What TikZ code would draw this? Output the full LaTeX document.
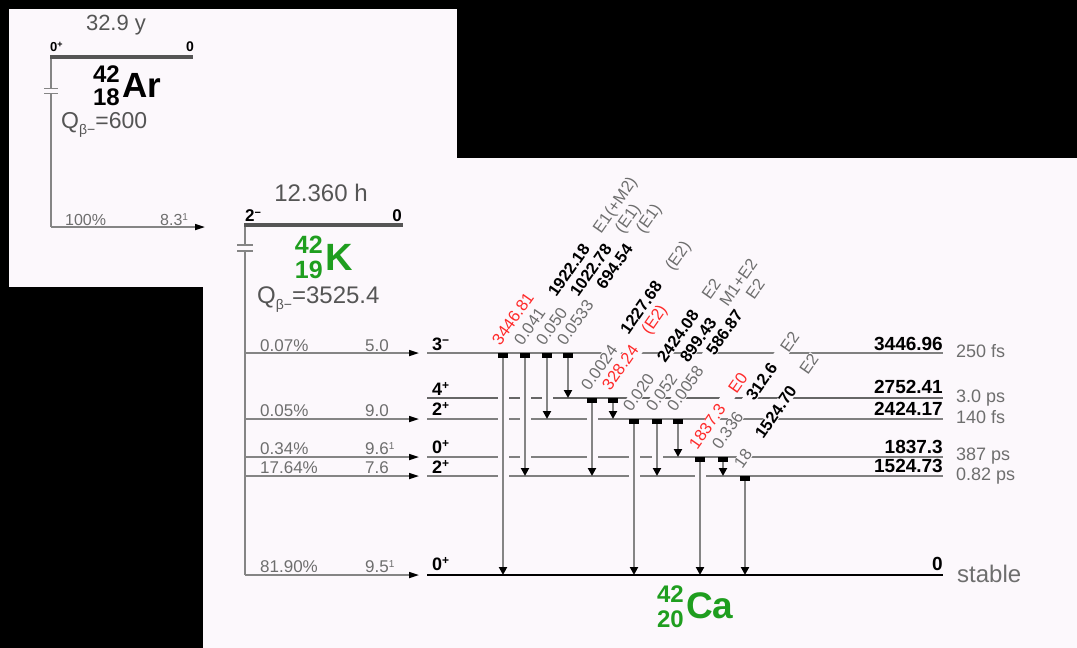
\documentclass[tikz,border=0pt]{standalone}
\usepackage{fontspec}
\setmainfont{Liberation Sans}
\usetikzlibrary{arrows.meta,calc}
\definecolor{bgc}{HTML}{FCF8FC}
\definecolor{levgray}{HTML}{808080}
\definecolor{gamgray}{HTML}{858585}
\definecolor{txtgray}{HTML}{6E6E6E}
\definecolor{dgray}{HTML}{555555}
\definecolor{nucgreen}{HTML}{1F9E1F}
\definecolor{labred}{HTML}{FF2A2A}
\newcommand\fs[1]{\fontsize{#1}{#1}\selectfont}
\newcommand\supx[1]{\raisebox{6pt}{\fs{12}#1}}
\newcommand\glI[1]{\textcolor{txtgray}{#1}}
\newcommand\glE[1]{\textcolor{black}{\bfseries #1}}
\newcommand\gsep{\hspace{1.1em}}
\begin{document}
\begin{tikzpicture}[x=1pt,y=-1pt,
  lev/.style={draw=levgray, line width=1.8pt},
  gsline/.style={draw=black, line width=2.2pt},
  parlev/.style={draw=dgray, line width=4pt},
  vline/.style={draw=gamgray, line width=2pt},
  betaarr/.style={draw=gamgray, line width=1.6pt, -{Triangle[length=10pt,width=6pt,color=black]}},
  gam/.style={draw=gamgray, line width=2.2pt, {Rectangle[length=5pt,width=10pt,color=black]}-{Triangle[length=8pt,width=8pt,color=black]}},
  halo/.style={draw=bgc, line width=11pt},
  glab/.style={rotate=55, anchor=base west, inner sep=0.4pt, fill=bgc, font=\fs{16.5}},
  pct/.style={anchor=base west, font=\fs{17}, text=txtgray},
  spin/.style={anchor=base west, font=\fs{18}\bfseries},
  en/.style={anchor=base east, font=\fs{19}\bfseries},
  hl/.style={anchor=base west, font=\fs{18}, text=txtgray},
  brk/.style={draw=gamgray, line width=1.5pt},
]
\useasboundingbox (0,0) rectangle (1077,648);
\fill[black] (0,0) rectangle (1077,648);
\fill[bgc] (9,9) rectangle (457,287);
\fill[bgc] (203,158) rectangle (1077,648);

% ---------------- 42Ar panel ----------------
\node[anchor=base, font=\fs{22}, text=dgray] (arT) at (116,30) {32.9 y};
\coordinate (arL) at (50,57); \coordinate (arR) at (193,57);
\draw[parlev] (arL) -- (arR);
\node[anchor=base west, font=\fs{13}\bfseries, inner sep=0] (arJ) at (50,51) {0\raisebox{4pt}{\fs{9}+}};
\node[anchor=base east, font=\fs{14}\bfseries, inner sep=0] (arE) at (194,51) {0};
\coordinate (arV) at (51,59); \coordinate (arB) at (51,227); \coordinate (arTip) at (205,227);
\draw[vline] (arV) -- (arB);
\fill[bgc] (47,88) rectangle (55,94);
\draw[brk] (44,88.5) -- (58,88.5) (44,93.5) -- (58,93.5);
\node[anchor=base east, font=\fs{24}\bfseries, inner sep=0] (arA) at (120,82) {42};
\node[anchor=base east, font=\fs{24}\bfseries, inner sep=0] (arZ) at (120,105) {18};
\node[anchor=base west, font=\fs{35}\bfseries, inner sep=0] (arS) at (122,97) {Ar};
\node[anchor=base west, font=\fs{23}, text=dgray, inner sep=0] (arQ) at (61,128) {Q\raisebox{-6pt}{\fs{14}β−}=600};
\draw[betaarr] (arB) -- (arTip);
\node[pct, font=\fs{16}, inner sep=0] (arP) at (65,225) {100\%};
\node[pct, font=\fs{16}, inner sep=0] (arF) at (160,225) {8.3\raisebox{5pt}{\fs{10}1}};

% ---------------- 42K panel ----------------
\node[anchor=base, font=\fs{24}, text=dgray] (kT) at (321,201) {12.360 h};
\coordinate (kL) at (244,225); \coordinate (kR) at (403,225);
\draw[parlev] (kL) -- (kR);
\node[anchor=base west, font=\fs{17}\bfseries, inner sep=0] (kJ) at (245,221) {2\raisebox{5pt}{\fs{11}−}};
\node[anchor=base east, font=\fs{17}\bfseries, inner sep=0] (kE) at (402,221) {0};
\coordinate (kV) at (245,227); \coordinate (kB) at (245,575);
\draw[vline] (kV) -- (kB);
\fill[bgc] (241,245) rectangle (249,251);
\draw[brk] (237,245) -- (253,245) (237,251) -- (253,251);
\node[anchor=base east, font=\fs{25}\bfseries, text=nucgreen, inner sep=0] (kA) at (323,253) {42};
\node[anchor=base east, font=\fs{25}\bfseries, text=nucgreen, inner sep=0] (kZ) at (323,278) {19};
\node[anchor=base west, font=\fs{38}\bfseries, text=nucgreen, inner sep=0] (kS) at (325,270) {K};
\node[anchor=base west, font=\fs{24}, text=dgray, inner sep=0] (kQ) at (257,303) {Q\raisebox{-6pt}{\fs{14}β−}=3525.4};

% beta branches
\coordinate (b1s) at (245,353); \coordinate (b1e) at (419,353);
\coordinate (b2s) at (245,419); \coordinate (b2e) at (419,419);
\coordinate (b3s) at (245,457); \coordinate (b3e) at (419,457);
\coordinate (b4s) at (245,476); \coordinate (b4e) at (419,476);
\coordinate (b5s) at (245,575); \coordinate (b5e) at (419,575);
\foreach \b in {1,...,5} {\draw[betaarr] (b\b s) -- (b\b e);}
\node[pct, inner sep=0] (p1) at (260,351) {0.07\%};
\node[pct, inner sep=0] (f1) at (365,351) {5.0};
\node[pct, inner sep=0] (p2) at (260,416) {0.05\%};
\node[pct, inner sep=0] (f2) at (365,416) {9.0};
\node[pct, inner sep=0] (p3) at (260,454) {0.34\%};
\node[pct, inner sep=0] (f3) at (365,454) {9.6\raisebox{5pt}{\fs{10}1}};
\node[pct, inner sep=0] (p4) at (260,473) {17.64\%};
\node[pct, inner sep=0] (f4) at (365,473) {7.6};
\node[pct, inner sep=0] (p5) at (260,572) {81.90\%};
\node[pct, inner sep=0] (f5) at (365,572) {9.5\raisebox{5pt}{\fs{10}1}};

% ---------------- 42Ca levels ----------------
\coordinate (L1l) at (427,353); \coordinate (L1r) at (943,353);
\coordinate (L2l) at (427,398); \coordinate (L2r) at (943,398);
\coordinate (L3l) at (427,419); \coordinate (L3r) at (943,419);
\coordinate (L4l) at (427,457); \coordinate (L4r) at (943,457);
\coordinate (L5l) at (427,476); \coordinate (L5r) at (943,476);
\coordinate (L0l) at (427,575); \coordinate (L0r) at (943,575);
\draw[lev] (L1l) -- (L1r);
\draw[lev, draw=gray!80!black] (L2l) -- (L2r);
\draw[lev] (L3l) -- (L3r);
\draw[lev] (L4l) -- (L4r);
\draw[lev] (L5l) -- (L5r);
\draw[gsline] (L0l) -- (L0r);

\node[spin, inner sep=0] (s1) at (432,350) {3\supx{−}};
\node[spin, inner sep=0] (s2) at (432,395) {4\supx{+}};
\node[spin, inner sep=0] (s3) at (432,415) {2\supx{+}};
\node[spin, inner sep=0] (s4) at (432,453) {0\supx{+}};
\node[spin, inner sep=0] (s5) at (432,473) {2\supx{+}};
\node[spin, inner sep=0] (s0) at (432,570) {0\supx{+}};

\node[en, inner sep=0] (e1) at (943,350) {3446.96};
\node[en, inner sep=0] (e2) at (943,393) {2752.41};
\node[en, inner sep=0] (e3) at (943,415) {2424.17};
\node[en, inner sep=0] (e4) at (943,453) {1837.3};
\node[en, inner sep=0] (e5) at (943,472) {1524.73};
\node[en, inner sep=0] (e0) at (943,570) {0};

\node[hl, inner sep=0] (h1) at (956,357) {250 fs};
\node[hl, inner sep=0] (h2) at (956,402) {3.0 ps};
\node[hl, inner sep=0] (h3) at (956,423) {140 fs};
\node[hl, inner sep=0] (h4) at (956,460) {387 ps};
\node[hl, inner sep=0] (h5) at (956,480) {0.82 ps};
\node[hl, font=\fs{24}, inner sep=0] (h0) at (957,582) {stable};

% ---------------- gamma transitions ----------------
\coordinate (g1s) at (503,353);  \coordinate (g1e) at (503,575);
\coordinate (g2s) at (525,353);  \coordinate (g2e) at (525,476);
\coordinate (g3s) at (547,353);  \coordinate (g3e) at (547,419);
\coordinate (g4s) at (568,353);  \coordinate (g4e) at (568,398);
\coordinate (g5s) at (592,398);  \coordinate (g5e) at (592,476);
\coordinate (g6s) at (613,398);  \coordinate (g6e) at (613,419);
\coordinate (g7s) at (634,419);  \coordinate (g7e) at (634,575);
\coordinate (g8s) at (657,419);  \coordinate (g8e) at (657,476);
\coordinate (g9s) at (678,419);  \coordinate (g9e) at (678,457);
\coordinate (g10s) at (700,457); \coordinate (g10e) at (700,575);
\coordinate (g11s) at (723,457); \coordinate (g11e) at (723,476);
\coordinate (g12s) at (745,476); \coordinate (g12e) at (745,575);
\foreach \g in {1,...,12} {
  \draw[halo] ($(g\g s)+(0,9)$) -- ($(g\g e)+(0,-10)$);
}
\foreach \g in {1,...,12} {
  \draw[gam] (g\g s) -- (g\g e);
}

% gamma labels
\node[glab] (t1) at ($(g1s)+(-3,-6)$) {\textcolor{labred}{3446.81}};
\node[glab] (t2) at ($(g2s)+(-3,-6)$) {\glI{0.041}\gsep\glE{1922.18}\gsep\glI{E1(+M2)}};
\node[glab] (t3) at ($(g3s)+(-3,-6)$) {\glI{0.050}\gsep\glE{1022.78}\gsep\glI{(E1)}};
\node[glab] (t4) at ($(g4s)+(-3,-6)$) {\glI{0.0533}\gsep\glE{694.54}\gsep\glI{(E1)}};
\node[glab] (t5) at ($(g5s)+(-3,-6)$) {\glI{0.0024}\gsep\glE{1227.68}\gsep\glI{(E2)}};
\node[glab] (t6) at ($(g6s)+(-3,-6)$) {\textcolor{labred}{328.24\gsep(E2)}};
\node[glab] (t7) at ($(g7s)+(-3,-6)$) {\glI{0.020}\gsep\glE{2424.08}\gsep\glI{E2}};
\node[glab] (t8) at ($(g8s)+(-3,-6)$) {\glI{0.052}\gsep\glE{899.43}\gsep\glI{M1+E2}};
\node[glab] (t9) at ($(g9s)+(-3,-6)$) {\glI{0.0058}\gsep\glE{586.87}\gsep\glI{E2}};
\node[glab] (t10) at ($(g10s)+(-3,-6)$) {\textcolor{labred}{1837.3\gsep E0}};
\node[glab] (t11) at ($(g11s)+(-3,-6)$) {\glI{0.336}\gsep\glE{312.6}\gsep\glI{E2}};
\node[glab] (t12) at ($(g12s)+(-3,-6)$) {\glI{18}\gsep\glE{1524.70}\gsep\glI{E2}};

% 42Ca nuclide
\node[anchor=base east, font=\fs{24}\bfseries, text=nucgreen, inner sep=0] (cA) at (684,602) {42};
\node[anchor=base east, font=\fs{24}\bfseries, text=nucgreen, inner sep=0] (cZ) at (684,627) {20};
\node[anchor=base west, font=\fs{37}\bfseries, text=nucgreen, inner sep=0] (cS) at (686,618) {Ca};
\end{tikzpicture}
\end{document}
